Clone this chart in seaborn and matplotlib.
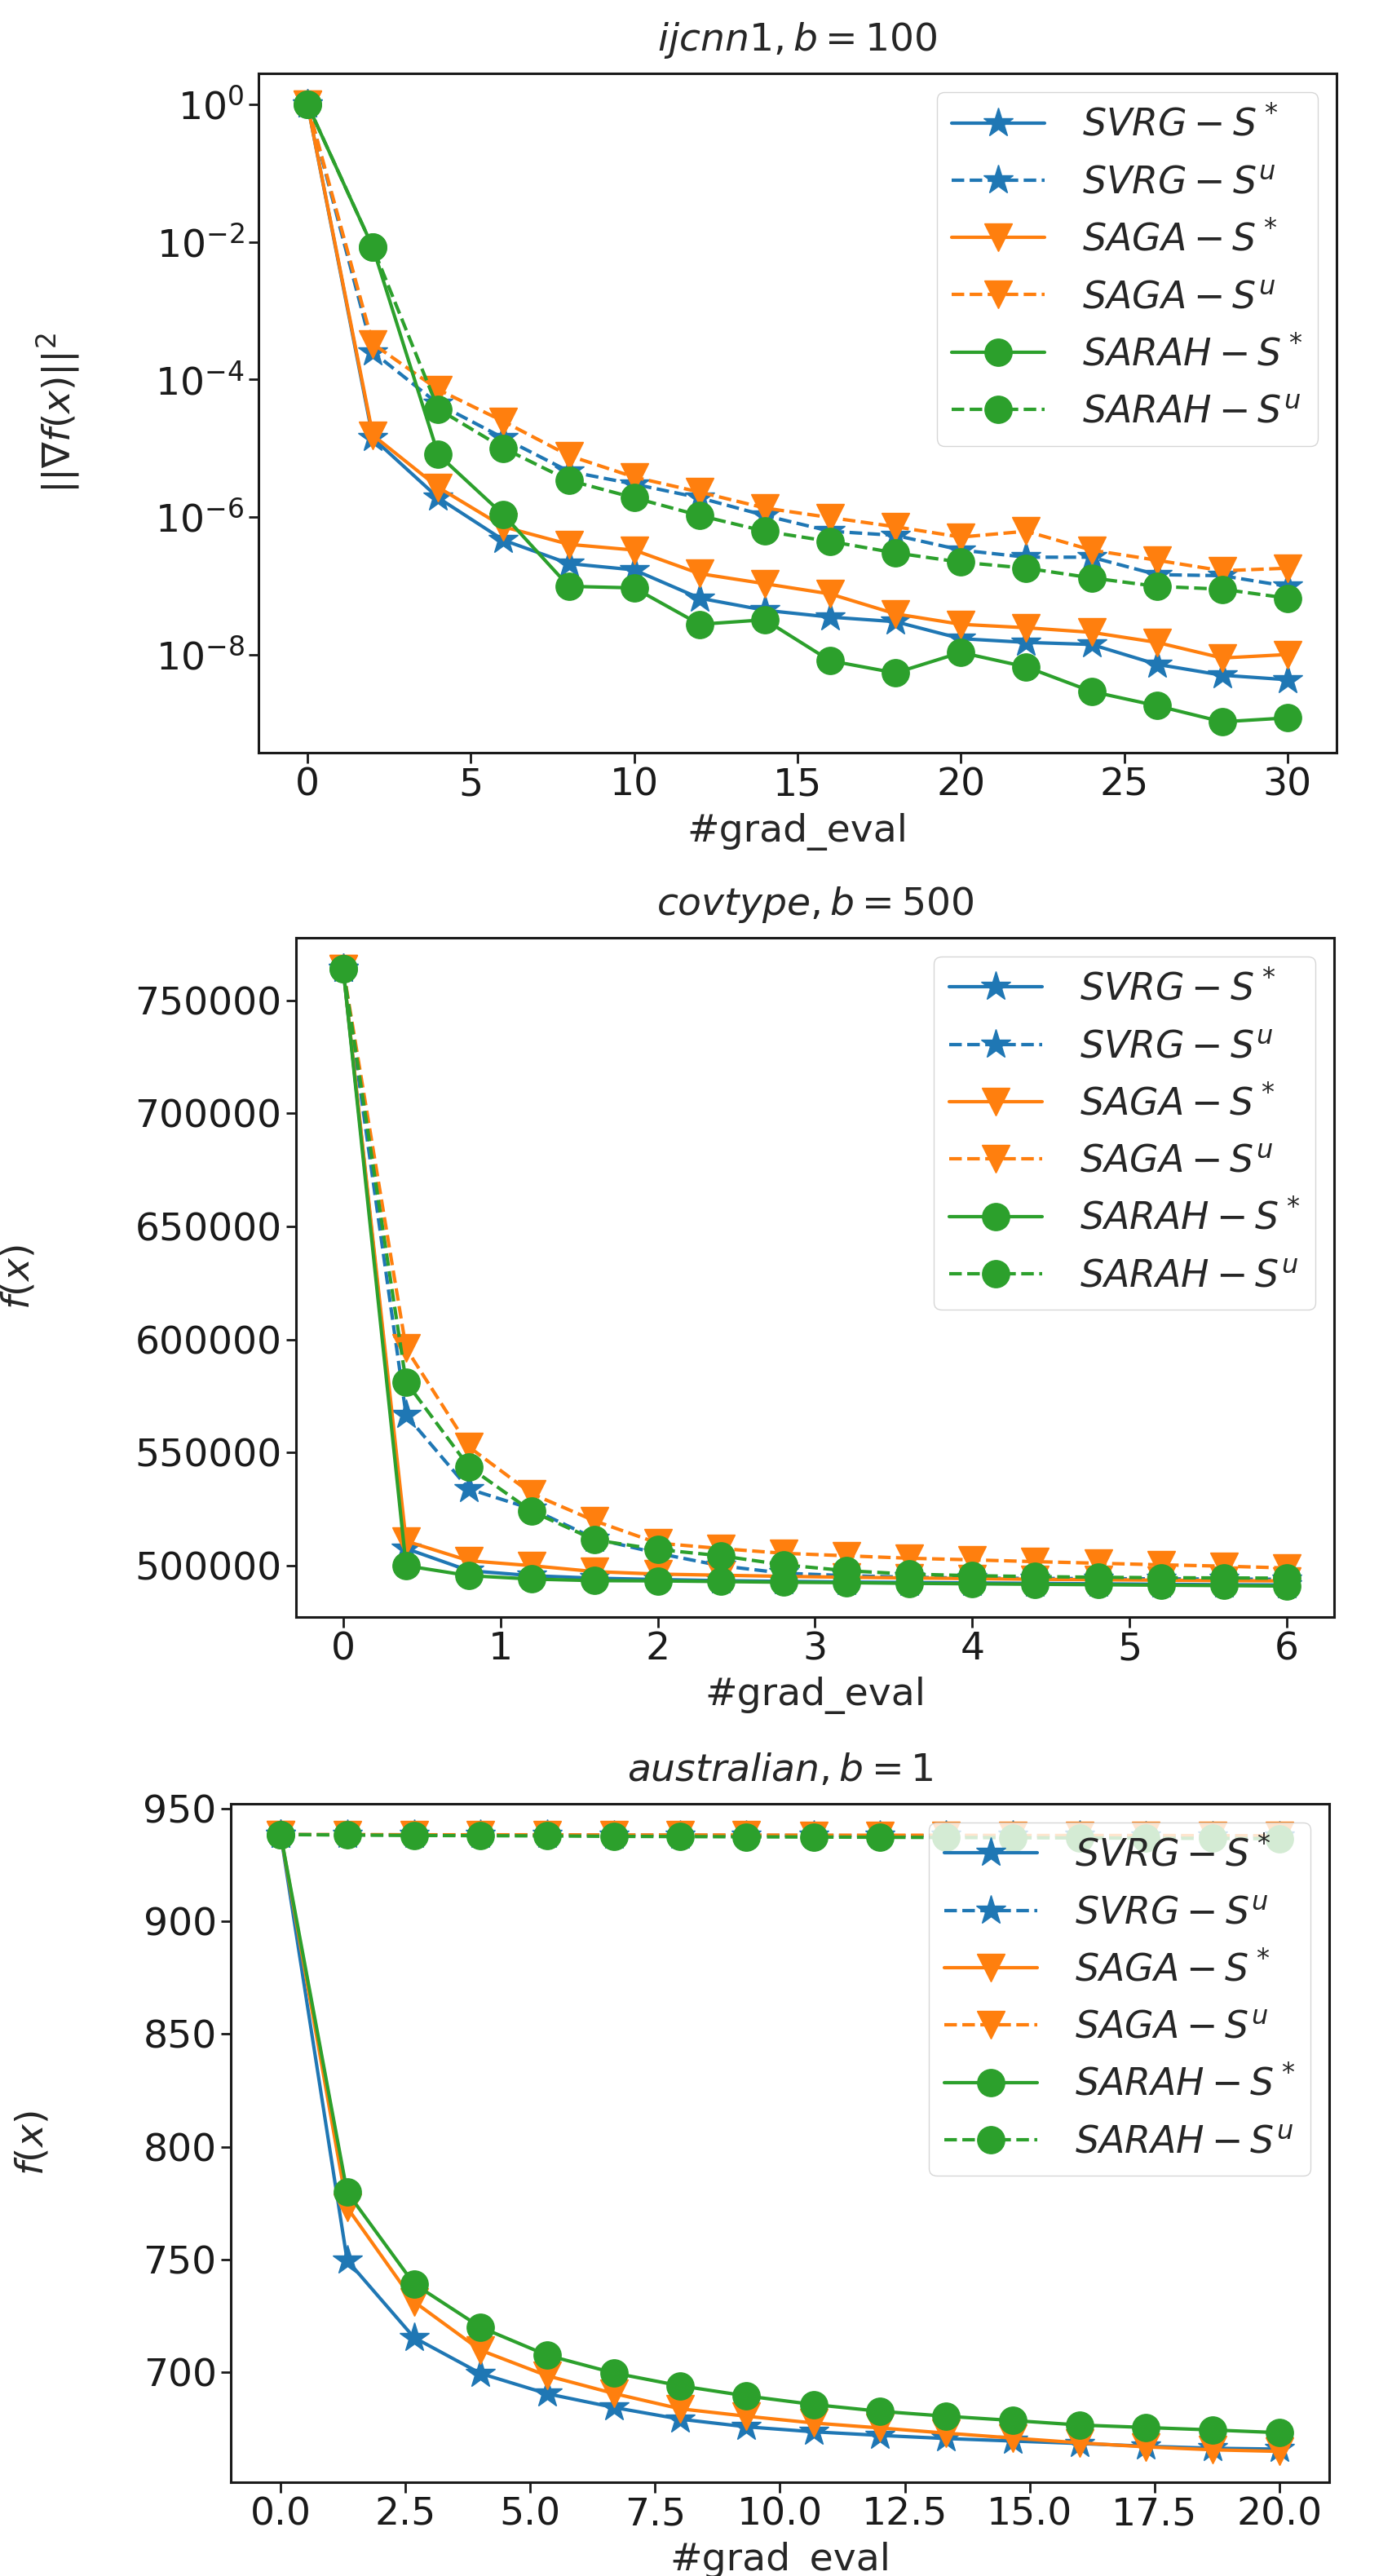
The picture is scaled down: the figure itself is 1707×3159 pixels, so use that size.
import numpy as np
import pandas as pd
import matplotlib.pyplot as plt
import matplotlib.ticker as mticker
import seaborn as sns

# --- ijcnn1, b=100 : squared gradient norm (log scale) ---
ij_x = [0, 2, 4, 6, 8, 10, 12, 14, 16, 18, 20, 22, 24, 26, 28, 30]
ij_svrg_star = [1.0, 1.4e-5, 1.9e-6, 4.6e-7, 2.1e-7, 1.7e-7, 6.6e-8, 4.4e-8,
                3.5e-8, 3.0e-8, 1.7e-8, 1.5e-8, 1.4e-8, 7.2e-9, 5.0e-9, 4.3e-9]
ij_svrg_u = [1.0, 2.5e-4, 4.4e-5, 1.4e-5, 4.6e-6, 3.0e-6, 1.9e-6, 1.05e-6,
             6.2e-7, 5.4e-7, 3.3e-7, 2.6e-7, 2.6e-7, 1.45e-7, 1.4e-7, 9.8e-8]
ij_saga_star = [1.0, 1.55e-5, 2.7e-6, 7.2e-7, 4.0e-7, 3.3e-7, 1.5e-7, 1.07e-7,
                7.6e-8, 3.9e-8, 2.75e-8, 2.45e-8, 2.1e-8, 1.5e-8, 8.9e-9, 1.0e-8]
ij_saga_u = [1.0, 3.3e-4, 7.1e-5, 2.45e-5, 7.8e-6, 3.8e-6, 2.3e-6, 1.35e-6,
             9.8e-7, 7.2e-7, 5.1e-7, 6.2e-7, 3.3e-7, 2.35e-7, 1.65e-7, 1.8e-7]
ij_sarah_star = [1.0, 8.3e-3, 8.1e-6, 1.07e-6, 9.8e-8, 9.3e-8, 2.75e-8, 3.2e-8,
                 8.1e-9, 5.4e-9, 1.07e-8, 6.6e-9, 2.9e-9, 1.8e-9, 1.05e-9, 1.2e-9]
ij_sarah_u = [1.0, 8.3e-3, 3.7e-5, 1.0e-5, 3.4e-6, 1.9e-6, 1.05e-6, 6.2e-7,
              4.4e-7, 3.0e-7, 2.2e-7, 1.8e-7, 1.3e-7, 9.8e-8, 8.9e-8, 6.6e-8]

# --- covtype, b=500 : objective value ---
cov_x = [0, 0.4, 0.8, 1.2, 1.6, 2.0, 2.4, 2.8, 3.2, 3.6, 4.0, 4.4, 4.8, 5.2, 5.6, 6.0]
cov_svrg_star = [764000, 507600, 497800, 495600, 494500, 493900, 493400, 493100,
                 492800, 492600, 492400, 492200, 492000, 491800, 491600, 491500]
cov_svrg_u = [764000, 566600, 533900, 525100, 512000, 505500, 500000, 496700,
              495600, 494900, 494500, 494400, 494300, 494200, 494100, 494000]
cov_saga_star = [764000, 510900, 502200, 500000, 497400, 496300, 495800, 495300,
                 494900, 494600, 494300, 494000, 493800, 493600, 493400, 493300]
cov_saga_u = [764000, 596100, 552500, 531800, 519800, 510000, 507600, 505500,
              504400, 503300, 502600, 501800, 501100, 500400, 499800, 499000]
cov_sarah_star = [764000, 500000, 495600, 494100, 493400, 493300, 493000, 492700,
                  492500, 492200, 492000, 491800, 491600, 491400, 491200, 491000]
cov_sarah_u = [764000, 581200, 543700, 524000, 511400, 507200, 504400, 500400,
               497800, 496300, 495600, 495200, 494900, 494700, 494600, 494500]

# --- australian, b=1 : objective value ---
au_x = [0, 1.33, 2.67, 4.0, 5.33, 6.67, 8.0, 9.33, 10.67, 12.0, 13.33, 14.67,
        16.0, 17.33, 18.67, 20.0]
au_svrg_star = [938.5, 749.7, 715.4, 699.5, 690.5, 684.4, 679.2, 675.8, 673.6,
                672.0, 670.6, 669.5, 668.4, 667.2, 666.3, 665.9]
au_svrg_u = [938.5, 938.4, 938.4, 938.3, 938.3, 938.2, 938.2, 938.1, 938.1,
             938.0, 938.0, 937.9, 937.9, 937.8, 937.8, 937.7]
au_saga_star = [938.5, 773.1, 731.3, 709.8, 698.5, 690.6, 683.8, 680.5, 677.5,
                675.3, 673.0, 670.8, 668.7, 666.9, 665.6, 664.9]
au_saga_u = [938.5, 938.5, 938.4, 938.4, 938.4, 938.3, 938.3, 938.3, 938.2,
             938.2, 938.2, 938.1, 938.1, 938.1, 938.0, 938.0]
au_sarah_star = [938.5, 779.9, 739.2, 720.0, 707.6, 699.7, 694.0, 689.5, 685.7,
                 682.7, 680.5, 678.6, 676.6, 675.5, 674.4, 673.2]
au_sarah_u = [938.5, 938.3, 938.1, 938.0, 937.9, 937.7, 937.6, 937.5, 937.4,
              937.3, 937.2, 937.1, 937.0, 936.9, 936.8, 936.7]

labels = [r'$SVRG-S^*$', r'$SVRG-S^u$', r'$SAGA-S^*$', r'$SAGA-S^u$',
          r'$SARAH-S^*$', r'$SARAH-S^u$']

sns.set_theme(style="ticks", rc={
    'axes.linewidth': 2.2, 'axes.edgecolor': '.1',
    'xtick.major.size': 9, 'ytick.major.size': 9,
    'xtick.major.width': 2, 'ytick.major.width': 2,
    'xtick.color': '.1', 'ytick.color': '.1',
    'xtick.labelsize': 34, 'ytick.labelsize': 34,
    'axes.labelsize': 34, 'axes.titlesize': 34,
})
plt.rcParams['font.family'] = ['DejaVu Sans']
plt.rcParams['mathtext.fontset'] = 'dejavusans'

pal = sns.color_palette("tab10")
colors = [pal[0], pal[0], pal[1], pal[1], pal[2], pal[2]]
markers = ['*', '*', 'v', 'v', 'o', 'o']
msizes = [27, 27, 24, 24, 24, 24]
styles = ['-', '--', '-', '--', '-', '--']

panels = [
    dict(x=ij_x, ys=[ij_svrg_star, ij_svrg_u, ij_saga_star, ij_saga_u, ij_sarah_star, ij_sarah_u],
         title=r'$ijcnn1, b=100$', ylabel=r'$||\nabla f(x)||^2$',
         rect=[0.1856, 0.7078, 0.7740, 0.2637], ylab_x=-0.164),
    dict(x=cov_x, ys=[cov_svrg_star, cov_svrg_u, cov_saga_star, cov_saga_u, cov_sarah_star, cov_sarah_u],
         title=r'$covtype, b=500$', ylabel=r'$f(x)$',
         rect=[0.2125, 0.3723, 0.7453, 0.2637], ylab_x=-0.249),
    dict(x=au_x, ys=[au_svrg_star, au_svrg_u, au_saga_star, au_saga_u, au_sarah_star, au_sarah_u],
         title=r'$australian, b=1$', ylabel=r'$f(x)$',
         rect=[0.1657, 0.0364, 0.7886, 0.2634], ylab_x=-0.164),
]

fig = plt.figure(figsize=(17.08, 31.59), dpi=100)

for i, p in enumerate(panels):
    ax = fig.add_axes(p['rect'])
    for y, lab, c, m, ms, ls in zip(p['ys'], labels, colors, markers, msizes, styles):
        sns.lineplot(x=p['x'], y=y, ax=ax, color=c, marker=m, markersize=ms,
                     markeredgecolor=c, markeredgewidth=1, linestyle=ls,
                     linewidth=3, label=lab)
    if i == 0:
        ax.set_yscale('log')
        ax.yaxis.set_major_locator(mticker.FixedLocator([1, 1e-2, 1e-4, 1e-6, 1e-8]))
        ax.yaxis.set_minor_locator(mticker.NullLocator())
    elif i == 1:
        ax.yaxis.set_major_locator(mticker.MultipleLocator(50000))
    else:
        ax.yaxis.set_major_locator(mticker.MultipleLocator(50))
    ax.set_title(p['title'], pad=20)
    ax.set_xlabel('#grad_eval', labelpad=8)
    ax.set_ylabel(p['ylabel'])
    ax.yaxis.set_label_coords(p['ylab_x'], 0.5)
    ax.legend(loc='upper right', fontsize=33, handlelength=2.5,
              handletextpad=1.0, labelspacing=0.55, borderaxespad=0.5)

fig.savefig('out.png', dpi=100)
